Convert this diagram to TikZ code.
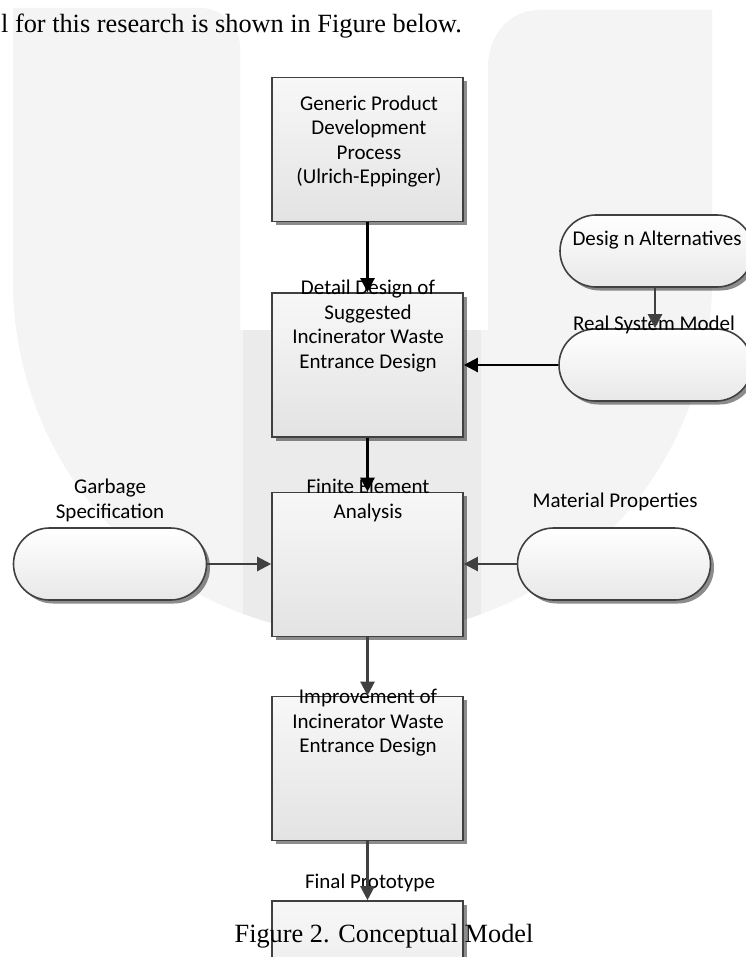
\documentclass[tikz,border=0pt]{standalone}
\usepackage{fontspec}
\setmainfont{Liberation Serif}
\newfontfamily\carlfont{Carlito}
\usetikzlibrary{arrows.meta,shadows}
\definecolor{edge}{HTML}{404040}
\definecolor{wmA}{HTML}{F4F4F4}
\definecolor{wmB}{HTML}{EBEBEB}
\tikzset{
  shd/.style={drop shadow={shadow xshift=3.5pt,shadow yshift=-3.5pt,opacity=0.45,fill=black}},
  procbox/.style={draw=edge,line width=1.6pt,top color=white!97!black,bottom color=white!89!black,
    minimum width=191pt,minimum height=144pt,inner sep=0pt,shd},
  pill/.style={draw=edge,line width=1.6pt,rounded corners=36pt,top color=white,bottom color=white!91!black,
    minimum width=193pt,minimum height=72pt,inner sep=0pt,shd},
  lbl/.style={font=\carlfont\fontsize{21}{24.5}\selectfont,align=center,inner sep=0pt},
  serif/.style={font=\fontsize{26.3}{30}\selectfont,inner sep=0pt},
  conn/.style={line width=2.3pt,-{Triangle[length=14pt,width=14pt]}},
  connk/.style={conn,draw=black,fill=black},
  conng/.style={conn,draw=edge,fill=edge},
}
\begin{document}
\begin{tikzpicture}[x=1pt,y=-1pt]
\useasboundingbox (0,0) rectangle (745,957);
\fill[white] (0,0) rectangle (745,957);
% watermark
\fill[wmA] (13,8) -- (200,8) .. controls (222,8) and (240,26) .. (240,48) -- (240,330) -- (488,330)
  -- (488,68) .. controls (488,36) and (508,10) .. (540,10) -- (712,10) -- (712,281)
  arc[start angle=0,end angle=-180,x radius=349.5pt,y radius=354pt] -- cycle;
\begin{scope}
  \clip (13,281) arc[start angle=180,end angle=360,x radius=349.5pt,y radius=354pt] -- cycle;
  \fill[wmB] (243,330) rectangle (481,700);
\end{scope}
% text
\node[serif,anchor=base east] (intro) at (462,33) {l for this research is shown in Figure below.};
% boxes
\node[procbox] (b1) at (367.5,149.5) {};
\node[procbox] (b2) at (367.5,365) {};
\node[procbox] (b3) at (367.5,564.5) {};
\node[procbox] (b4) at (367.5,768.5) {};
\node[procbox] (b5) at (367.5,973) {};
\node[pill] (da) at (656.5,251) {};
\node[pill] (rsm) at (655.5,365) {};
\node[pill] (gs) at (110,564) {};
\node[pill] (mp) at (614,564) {};
% labels
\node[lbl] (t1) at (369,141.5) {Generic Product\\Development\\Process\\(Ulrich-Eppinger)};
\node[lbl] (t2) at (368,326) {Detail Design of\\Suggested\\Incinerator Waste\\Entrance Design};
\node[lbl] (t3) at (368,500.5) {Finite Element\\Analysis};
\node[lbl] (t4) at (368,723) {Improvement of\\Incinerator Waste\\Entrance Design};
\node[lbl] (t5) at (370,883) {Final Prototype};
\node[lbl] (tda) at (657,240) {Desig n Alternatives};
\node[lbl] (trsm) at (654,325) {Real System Model};
\node[lbl] (tgs) at (110,500.5) {Garbage\\Specification};
\node[lbl] (tmp) at (615,502) {Material Properties};
% connectors
\draw[connk] (b1) -- (b2);
\draw[connk] (b2) -- (b3);
\draw[connk] (rsm.west) -- (rsm.west -| b2.east);
\draw[conng] (da.south -| 655,0) -- (rsm.north -| 655,0);
\draw[conng] (gs.east) -- (gs.east -| b3.west);
\draw[conng] (mp.west) -- (mp.west -| b3.east);
\draw[conng] (b3) -- (b4);
\draw[conng] (b4) -- (b5);
% caption
\node[serif,anchor=base] (cap) at (384,942) {Figure 2. Conceptual Model};
\end{tikzpicture}
\end{document}
